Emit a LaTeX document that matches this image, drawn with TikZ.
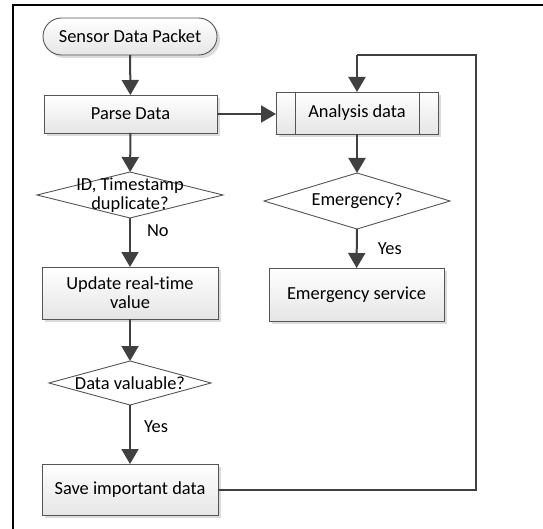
\documentclass[tikz,border=0pt]{standalone}
\usepackage{fontspec}
\setmainfont{Carlito}[Ligatures={NoCommon}]
\usetikzlibrary{arrows.meta,shapes.geometric,shadows}

\definecolor{linegray}{HTML}{404040}
\definecolor{edgegray}{HTML}{555555}

\tikzset{
  base/.style={draw=edgegray, line width=0.9bp, inner sep=0pt, outer sep=0pt,
    top color=white, bottom color=black!10,
    drop shadow={shadow xshift=3bp, shadow yshift=-3bp, fill=black!14, opacity=1}},
  procbox/.style={base, rectangle, align=center},
  termbox/.style={base, rectangle, rounded corners=18.5bp},
  decision/.style={diamond, draw=edgegray, line width=0.9bp, fill=white, inner sep=0pt, outer sep=0pt},
  flow/.style={draw=linegray, line width=2bp, -{Triangle[length=15bp,width=17bp]}},
  loopline/.style={draw=linegray, line width=2bp},
  tag/.style={inner sep=0pt, anchor=west},
  frameline/.style={draw=black, line width=2bp}
}

\begin{document}
\begin{tikzpicture}[x=1bp, y=-1bp, font=\fontsize{18.4bp}{19bp}\selectfont]
  \useasboundingbox (0,0) rectangle (543,529);

  % frame edges along the top and the left side
  \draw[frameline] (13,530) -- (13,5) -- (544,5);

  % left column
  \node[termbox, minimum width=174bp, minimum height=37bp] (start) at (130,36.5) {Sensor Data Packet};
  \node[procbox, minimum width=173bp, minimum height=38bp] (parse) at (130.5,114) {Parse Data};
  \node[decision, minimum width=186bp, minimum height=46bp,
        label={[align=center, inner sep=0pt]center:ID, Timestamp\\duplicate?}] (dup) at (130,195) {};
  \node[procbox, minimum width=176bp, minimum height=52bp] (update) at (130,293) {Update real-time\\value};
  \node[decision, minimum width=162bp, minimum height=44bp,
        label={[inner sep=0pt]center:Data valuable?}] (valuable) at (130,383) {};
  \node[procbox, minimum width=176bp, minimum height=51bp] (save) at (130,489.5) {Save important data};

  % right column
  \node[procbox, minimum width=162bp, minimum height=42bp] (analysis) at (357,113) {Analysis data};
  \draw[edgegray, line width=0.9bp] ([xshift=19bp]analysis.north west) -- ([xshift=19bp]analysis.south west)
        ([xshift=-19bp]analysis.north east) -- ([xshift=-19bp]analysis.south east);
  \node[decision, minimum width=186bp, minimum height=56bp,
        label={[inner sep=0pt]center:Emergency?}] (emerg) at (357,201) {};
  \node[procbox, minimum width=175bp, minimum height=53bp] (service) at (356.5,294.5) {Emergency service};

  % return path corners
  \coordinate (c1) at (476,489.5);
  \coordinate (c2) at (476,55);
  \coordinate (c3) at (357,55);

  % connectors
  \draw[flow] (start) -- (parse);
  \draw[flow] (parse.east) -- (parse.east -| analysis.west);
  \draw[flow] (parse) -- (dup);
  \draw[flow] (dup) -- (update) node[tag, pos=0.25, xshift=16bp] {No};
  \draw[flow] (update) -- (valuable);
  \draw[flow] (valuable) -- (save) node[tag, pos=0.37, xshift=13bp] {Yes};
  \draw[flow] (analysis) -- (emerg);
  \draw[flow] (emerg) -- (service) node[tag, pos=0.5, xshift=20bp] {Yes};
  \draw[loopline] (save.east) -- (c1) -- (c2) -- (c3);
  \draw[flow] (c3) -- (analysis.north);
\end{tikzpicture}
\end{document}
